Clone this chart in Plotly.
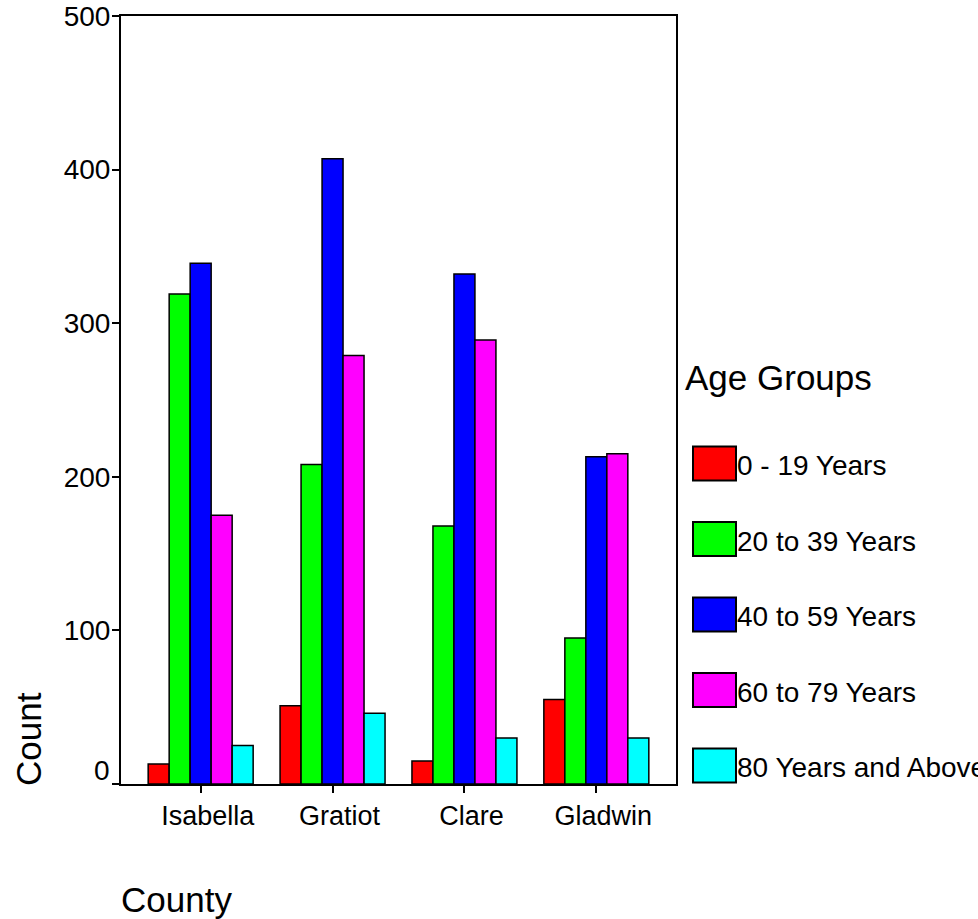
import plotly.graph_objects as go

# ---- data ----
counties = ["Isabella", "Gratiot", "Clare", "Gladwin"]
age_groups = ["0 - 19 Years", "20 to 39 Years", "40 to 59 Years",
              "60 to 79 Years", "80 Years and Above"]
group_colors = ["#FF0000", "#00FF00", "#0000FF", "#FF00FF", "#00FFFF"]
age_0_19 = [13, 51, 15, 55]
age_20_39 = [319, 208, 168, 95]
age_40_59 = [339, 407, 332, 213]
age_60_79 = [175, 279, 289, 215]
age_80_up = [25, 46, 30, 30]
y_ticks = [0, 100, 200, 300, 400, 500]

series = [age_0_19, age_20_39, age_40_59, age_60_79, age_80_up]

FONT = "Arial, Liberation Sans, sans-serif"
W, H = 978, 919
L, R, T, B = 121, 302, 16, 135
PW, PH = W - L - R, H - T - B


def px_x(px):
    return (px - L) / PW


def px_y(py):
    return (H - B - py) / PH


fig = go.Figure()
for name, vals, col in zip(age_groups, series, group_colors):
    fig.add_trace(go.Bar(
        x=counties, y=vals, name=name,
        marker=dict(color=col, line=dict(color="black", width=1.5)),
        showlegend=False,
    ))

# manual legend (big swatches like the original)
annotations = [dict(
    text="Age Groups", xref="paper", yref="paper",
    x=px_x(683), y=px_y(377), xanchor="left", yanchor="middle",
    showarrow=False, font=dict(family=FONT, size=35, color="black"))]
shapes = []
for i, (name, col) in enumerate(zip(age_groups, group_colors)):
    top = 446.5 + i * 75.5
    bot = top + 34
    shapes.append(dict(
        type="rect", xref="paper", yref="paper",
        x0=px_x(693), x1=px_x(736), y0=px_y(bot), y1=px_y(top),
        fillcolor=col, line=dict(color="black", width=2)))
    annotations.append(dict(
        text=name, xref="paper", yref="paper",
        x=px_x(735), y=px_y((top + bot) / 2 + 2), xanchor="left", yanchor="middle",
        showarrow=False, font=dict(family=FONT, size=28, color="black")))

# the "0" label sits above/left of its tick in the original
annotations.append(dict(
    text=str(y_ticks[0]), xref="paper", yref="y",
    x=px_x(102), y=y_ticks[0], yshift=14, xanchor="center", yanchor="middle",
    showarrow=False, font=dict(family=FONT, size=28, color="black")))

# axis titles aligned to axis start
annotations.append(dict(
    text="County", xref="paper", yref="paper",
    x=px_x(119), y=px_y(899), xanchor="left", yanchor="middle",
    showarrow=False, font=dict(family=FONT, size=35, color="black")))
annotations.append(dict(
    text="Count", xref="paper", yref="paper", textangle=-90,
    x=px_x(28), y=px_y(788), xanchor="center", yanchor="bottom",
    showarrow=False, font=dict(family=FONT, size=35, color="black")))

fig.update_layout(
    width=W, height=H,
    margin=dict(l=L, r=R, t=T, b=B, pad=0, autoexpand=False),
    paper_bgcolor="white", plot_bgcolor="white",
    barmode="group", bargap=0.204, bargroupgap=0,
    font=dict(family=FONT, size=28, color="black"),
    shapes=shapes, annotations=annotations,
    showlegend=False,
)
fig.update_xaxes(
    range=[-0.604, 3.604], showline=True, linecolor="black", linewidth=2,
    mirror=True, ticks="outside", ticklen=7, tickwidth=1.5, tickcolor="black",
    showgrid=False, zeroline=False, ticklabelshift=7, automargin=False,
    tickfont=dict(family=FONT, size=27, color="black"),
)
fig.update_yaxes(
    range=[0, 500], tickvals=y_ticks,
    ticktext=[""] + [str(v) for v in y_ticks[1:]],
    showline=True, linecolor="black", linewidth=2, mirror=True,
    ticks="outside", ticklen=7, tickwidth=1.5, tickcolor="black",
    showgrid=False, zeroline=False, automargin=False, ticklabelstandoff=-4,
    tickfont=dict(family=FONT, size=28, color="black"),
)

fig.write_html("out.html", config={"displayModeBar": False},
               post_script="document.body.style.margin='0';")
